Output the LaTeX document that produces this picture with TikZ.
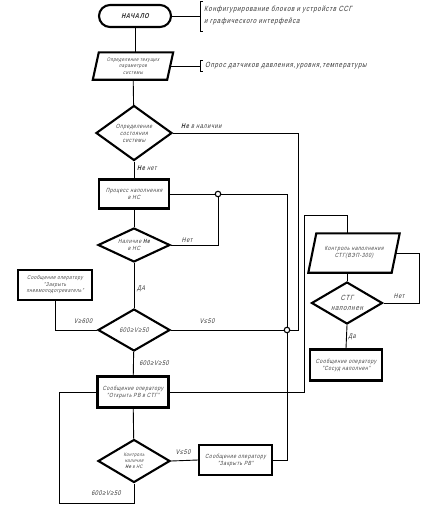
\documentclass[tikz,border=0pt]{standalone}
\usepackage{fontspec}
\setmainfont{Liberation Sans}[FakeStretch=0.8,FakeSlant=0.25,LetterSpace=10]
\usetikzlibrary{shapes.geometric}
\tikzset{
 blk/.style={draw, line width=2.1pt, inner sep=0pt},
 box/.style={blk, rectangle},
 dia/.style={blk, diamond},
 parhold/.style={rectangle, inner sep=0pt},
 pardraw/.style={line width=2.1pt, line join=miter},
 txt/.style={font=\fontsize{6}{7}\selectfont, align=center, text=black!75, inner sep=0pt},
 lbl/.style={font=\fontsize{6.8}{8}\selectfont, text=black!80, inner sep=0pt},
 note/.style={font=\fontsize{7.5}{12}\selectfont, text=black!80, align=left, anchor=west, inner sep=0pt},
 con/.style={line width=0.9pt},
 jn/.style={circle, draw, line width=1.1pt, fill=white, minimum size=5.5pt, inner sep=0pt},
}
\begin{document}
\begin{tikzpicture}[x=1pt,y=-1pt]
\useasboundingbox (0,0) rectangle (426,507);
% main column
\node[blk, rounded corners=11pt, minimum width=72pt, minimum height=22pt, font=\bfseries\fontsize{7}{8}\selectfont, text=black!85] (start) at (135,16) {НАЧАЛО};
\node[parhold, minimum width=74pt, minimum height=27pt] (par1) at (133,66) {};
\draw[pardraw] ([xshift=3pt]par1.north west) -- ([xshift=3pt]par1.north east) -- ([xshift=-3pt]par1.south east) -- ([xshift=-3pt]par1.south west) -- cycle;
\node[txt, font=\fontsize{5.2}{6.3}\selectfont] (par1t) at (par1) {Определение текущих\\параметров\\системы};
\node[dia, minimum width=76pt, minimum height=55pt] (d1) at (134,133) {};
\node[txt] (d1t) at (d1) {Определение\\состояния\\системы};
\node[box, minimum width=70pt, minimum height=29pt] (b1) at (134,194) {};
\node[txt] (b1t) at (b1) {Процесс наполнения\\в НС};
\node[dia, minimum width=72pt, minimum height=34pt] (d2) at (134,245) {};
\node[txt] (d2t) at (d2) {Наличие \textbf{He}\\в НС};
\node[dia, minimum width=72pt, minimum height=42pt] (d3) at (134,330) {};
\node[txt, font=\fontsize{6.8}{8}\selectfont] (d3t) at (d3) {600≥V≥50};
\node[box, minimum width=74pt, minimum height=30pt] (b2) at (55,285) {};
\node[txt, font=\fontsize{5.5}{6.5}\selectfont] (b2t) at (b2) {Сообщение оператору\\"Закрыть\\пневмоподогреватель"};
\node[box, minimum width=71pt, minimum height=31pt] (b4) at (133,392) {};
\node[txt] (b4t) at (b4) {Сообщение оператору\\"Открыть РВ в СТГ"};
\node[dia, minimum width=72pt, minimum height=43pt] (d4) at (134,461) {};
\node[txt, font=\fontsize{5}{5.8}\selectfont] (d4t) at (d4) {Контроль\\наличия\\\textbf{He} в НС};
\node[box, minimum width=73pt, minimum height=30pt] (b3) at (235.5,460) {};
\node[txt] (b3t) at (b3) {Сообщение оператору\\"Закрыть РВ"};
% right column
\node[parhold, minimum width=83pt, minimum height=39pt] (par2) at (354,253) {};
\draw[pardraw] ([xshift=4pt]par2.north west) -- ([xshift=4pt]par2.north east) -- ([xshift=-4pt]par2.south east) -- ([xshift=-4pt]par2.south west) -- cycle;
\node[txt] (par2t) at (par2) {Контроль наполнения\\СТГ(ВЭП-300)};
\node[dia, minimum width=71pt, minimum height=42pt] (d5) at (347,303) {};
\node[txt, font=\fontsize{7.5}{10}\selectfont] (d5t) at (d5) {СТГ\\наполнен};
\node[box, minimum width=72pt, minimum height=31pt] (b5) at (346,365) {};
\node[txt] (b5t) at (b5) {Сообщение оператору\\"Сосуд наполнен"};
% junctions
\node[jn] (j1) at (218,194) {};
\node[jn] (j2) at (287,330) {};
% annotations
\coordinate (n1) at (200,16);
\coordinate (n2) at (200,66);
\draw[con] (start.east) -- (n1);
\draw[con] (203,1) -- (200,1) -- (200,31) -- (203,31);
\node[note] (n1t) at (204,15.5) {Конфигурирование блоков и устройств ССГ\\и графического интерфейса};
\draw[con] (par1.east) -- (n2);
\draw[con] (203,60.5) -- (200,60.5) -- (200,71.5) -- (203,71.5);
\node[note] (n2t) at (205,66) {Опрос датчиков давления,уровня,температуры};
% helper coordinates
\coordinate (c298) at (298,330);
\coordinate (c287t) at (287,194);
\coordinate (c287b) at (287,460);
\coordinate (cbl) at (59,503);
\coordinate (c304) at (304,215);
\coordinate (c419) at (419,303);
% connectors
\draw[con] (start) -- (start |- par1.north);
\draw[con] (par1) -- (d1);
\draw[con] (d1) -- (b1);
\draw[con] (b1) -- (d2);
\draw[con] (d2) -- (d3);
\draw[con] (d3) -- (b4);
\draw[con] (b4) -- (d4);
\draw[con] (d1.east) -| (c298) -- (j2.east);
\draw[con] (b1.east) -- (j1.west);
\draw[con] (j1.east) -- (c287t) -- (j2.north);
\draw[con] (j2.south) -- (c287b) -- (b3.east);
\draw[con] (d2.east) -| (j1.south);
\draw[con] (b2.south) |- (d3.west);
\draw[con] (d3.east) -- (j2.west);
\draw[con] (b4.west) -| (cbl) -| (d4.south);
\draw[con] (b4.east) -| (c304) -| (d5.north |- par2.north);
\draw[con] (d5.north |- par2.south) -- (d5.north);
\draw[con] (par2.east) -| (c419) -- (d5.east);
\draw[con] (d4.east) -- (b3.west);
\draw[con] (d5.south) -- (b5.north);
% labels
\node[lbl, anchor=west] (l1) at (181,126) {\textbf{He} в наличии};
\node[lbl, anchor=west] (l2) at (137,168) {\textbf{He} нет};
\node[lbl] (l3) at (187,240) {Нет};
\node[lbl] (l4) at (141,289) {ДА};
\node[lbl] (l5) at (83,321) {V≥600};
\node[lbl] (l6) at (207,321) {V≤50};
\node[lbl] (l7) at (154,363) {600≥V≥50};
\node[lbl] (l8) at (183,452) {V≤50};
\node[lbl] (l9) at (106,493) {600≥V≥50};
\node[lbl] (l10) at (399,296) {Нет};
\node[lbl] (l11) at (352,337) {Да};
\end{tikzpicture}
\end{document}
